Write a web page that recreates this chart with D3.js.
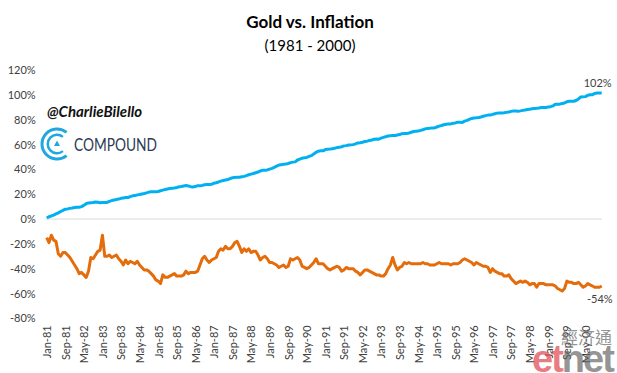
<!DOCTYPE html>
<html>
<head>
<meta charset="utf-8">
<script src="https://cdn.jsdelivr.net/npm/d3@7"></script>
<style>
  body { margin: 0; background: #fff; }
  svg { display: block; font-family: Lato, "Open Sans", sans-serif; }
</style>
</head>
<body>
<svg width="617" height="373"></svg>
<script>
// cumulative change since Dec-80, monthly Jan-81 .. Dec-00
const inflation = [
  0.8, 1.9, 2.5, 3.2, 4.1, 5.0, 6.1, 7.0, 8.0, 8.2, 8.6, 8.9,
  9.3, 9.6, 9.5, 10.0, 11.0, 12.4, 13.0, 13.2, 13.4, 13.8, 13.6, 13.1,
  13.3, 13.4, 13.4, 14.3, 14.9, 15.3, 15.8, 16.1, 16.7, 17.0, 17.3, 17.4,
  18.1, 18.7, 18.9, 19.5, 19.8, 20.2, 20.6, 21.1, 21.7, 22.0, 22.0, 22.0,
  22.2, 22.8, 23.3, 23.9, 24.3, 24.7, 24.9, 25.1, 25.5, 26.0, 26.3, 26.7,
  27.0, 26.7, 26.1, 25.8, 26.2, 26.9, 26.9, 27.1, 27.7, 27.8, 27.9, 28.0,
  28.9, 29.3, 29.9, 30.6, 31.1, 31.5, 31.9, 32.6, 33.3, 33.6, 33.7, 33.7,
  34.1, 34.4, 35.0, 35.7, 36.2, 36.7, 37.3, 37.9, 38.8, 39.3, 39.4, 39.6,
  40.3, 40.9, 41.7, 42.6, 43.5, 43.8, 44.1, 44.4, 44.8, 45.5, 45.9, 46.1,
  47.6, 48.3, 49.1, 49.4, 49.7, 50.5, 51.1, 52.5, 53.8, 54.7, 55.0, 55.0,
  56.0, 56.2, 56.4, 56.7, 57.1, 57.6, 57.8, 58.3, 59.0, 59.2, 59.7, 59.8,
  60.0, 60.6, 61.4, 61.6, 61.9, 62.5, 62.8, 63.3, 63.7, 64.3, 64.5, 64.4,
  65.2, 65.8, 66.4, 66.9, 67.1, 67.3, 67.3, 67.8, 68.1, 68.8, 68.9, 68.9,
  69.4, 70.0, 70.6, 70.8, 70.9, 71.5, 72.0, 72.7, 73.1, 73.2, 73.5, 73.5,
  74.2, 74.9, 75.4, 76.0, 76.4, 76.7, 76.7, 77.2, 77.5, 78.1, 78.0, 77.9,
  78.9, 79.5, 80.4, 81.1, 81.5, 81.6, 81.9, 82.3, 82.9, 83.4, 83.8, 83.8,
  84.4, 84.9, 85.4, 85.6, 85.5, 85.7, 86.0, 86.3, 86.8, 87.2, 87.1, 86.9,
  87.2, 87.6, 87.9, 88.3, 88.6, 88.9, 89.1, 89.3, 89.6, 90.0, 90.0, 89.9,
  90.4, 90.6, 91.2, 92.6, 92.6, 92.6, 93.2, 93.6, 94.5, 94.9, 95.0, 95.0,
  95.6, 96.8, 98.4, 98.5, 98.7, 99.8, 100.2, 100.2, 101.3, 101.6, 101.7, 101.6
];

// real gold return, same months
const gold = [
  -15, -19, -13, -17, -18, -28, -30, -27, -27, -29, -31, -34,
  -37, -40, -44, -43, -45, -47, -42, -31, -32, -29, -26, -25,
  -13, -30, -30, -29, -31, -30, -29, -32, -34, -37, -33, -36,
  -34, -35, -36, -34, -37, -39, -41, -41, -42, -44, -46, -49,
  -50, -52, -45, -47, -47, -46, -45, -44, -46, -46, -46, -45,
  -42, -44, -43, -43, -43, -42, -37, -32, -30, -33, -35, -33,
  -32, -31, -26, -24, -25, -22, -24, -24, -22, -19, -18, -22,
  -27, -24, -26, -24, -27, -26, -26, -29, -33, -31, -30, -32,
  -35, -35, -36, -37, -39, -38, -37, -39, -38, -32, -33, -32,
  -31, -33, -38, -39, -40, -39, -37, -35, -32, -36, -36, -36,
  -38, -40, -41, -40, -39, -38, -39, -42, -41, -39, -40, -40,
  -40, -42, -43, -45, -43, -41, -41, -42, -43, -44, -45, -45,
  -46, -46, -44, -40, -37, -31, -37, -41, -39, -38, -35, -36,
  -35, -36, -36, -36, -36, -36, -35, -36, -36, -37, -37, -37,
  -36, -35, -36, -36, -36, -36, -37, -36, -36, -36, -35, -33,
  -32, -33, -34, -35, -37, -35, -36, -37, -38, -38, -39, -43,
  -40, -42, -43, -44, -44, -46, -46, -45, -48, -50, -52, -51,
  -50, -51, -50, -51, -53, -52, -52, -55, -52, -52, -52, -53,
  -53, -53, -53, -54, -56, -57, -58, -56, -50, -51, -51, -52,
  -52, -51, -53, -55, -54, -52, -53, -54, -55, -55, -55, -54
];

const tickLabels = [
  'Jan-81', 'Sep-81', 'May-82', 'Jan-83', 'Sep-83', 'May-84', 'Jan-85', 'Sep-85',
  'May-86', 'Jan-87', 'Sep-87', 'May-88', 'Jan-89', 'Sep-89', 'May-90', 'Jan-91',
  'Sep-91', 'May-92', 'Jan-93', 'Sep-93', 'May-94', 'Jan-95', 'Sep-95', 'May-96',
  'Jan-97', 'Sep-97', 'May-98', 'Jan-99', 'Sep-99', 'May-00'
];
const yTicks = [-80, -60, -40, -20, 0, 20, 40, 60, 80, 100, 120];

const fmtMonth = d3.timeFormat('%b-%y');
const months = d3.timeMonth.range(new Date(1981, 0, 1), new Date(2001, 0, 1)).map(fmtMonth);

const svg = d3.select('svg');

const x = d3.scalePoint().domain(months).range([46.7, 601.7]);
const y = d3.scaleLinear().domain([-80, 120]).range([318.3, 70.2]);

// titles
svg.append('text')
  .attr('x', 310).attr('y', 28)
  .attr('text-anchor', 'middle')
  .attr('font-size', 17).attr('font-weight', 'bold').attr('fill', '#000')
  .text('Gold vs. Inflation');
svg.append('text')
  .attr('x', 310).attr('y', 51)
  .attr('text-anchor', 'middle')
  .attr('font-size', 15).attr('fill', '#000')
  .text('(1981 - 2000)');

// y axis
const yAxis = svg.append('g')
  .attr('transform', `translate(${x.range()[0]},0)`)
  .call(d3.axisLeft(y).tickValues(yTicks).tickSize(0).tickPadding(11).tickFormat(d => d + '%'));
yAxis.select('.domain').remove();
yAxis.selectAll('text').attr('font-size', 11).attr('fill', '#404040').style('font-family', 'Lato, sans-serif');

// zero line
svg.append('line')
  .attr('x1', x.range()[0]).attr('x2', x.range()[1])
  .attr('y1', y(0)).attr('y2', y(0))
  .attr('stroke', '#d9d9d9').attr('stroke-width', 1);

// x axis
const xAxis = svg.append('g')
  .attr('transform', `translate(0,${y(-80)})`)
  .call(d3.axisBottom(x).tickValues(tickLabels).tickSize(0));
xAxis.select('.domain').remove();
xAxis.selectAll('text')
  .attr('transform', 'rotate(-90)')
  .attr('text-anchor', 'end')
  .attr('x', -7).attr('y', 0).attr('dy', '0.35em')
  .attr('font-size', 11).attr('fill', '#404040')
  .style('font-family', 'Lato, sans-serif');

// lines
const line = d3.line()
  .x((d, i) => x(months[i]))
  .y(d => y(d));

svg.append('path')
  .datum(inflation)
  .attr('fill', 'none').attr('stroke', '#00b0f0')
  .attr('stroke-width', 3).attr('stroke-linejoin', 'round')
  .attr('d', line);

svg.append('path')
  .datum(gold)
  .attr('fill', 'none').attr('stroke', '#e46c0a')
  .attr('stroke-width', 3).attr('stroke-linejoin', 'round')
  .attr('d', line);

// end labels
const last = months.length - 1;
svg.append('text')
  .attr('x', x(months[last]) + 10).attr('y', y(inflation[last]) - 6)
  .attr('text-anchor', 'end').attr('font-size', 11).attr('fill', '#404040')
  .text(Math.round(inflation[last]) + '%');
svg.append('text')
  .attr('x', x(months[last]) + 11).attr('y', y(gold[last]) + 17)
  .attr('text-anchor', 'end').attr('font-size', 11).attr('fill', '#404040')
  .text(Math.round(gold[last]) + '%');

// watermark: @CharlieBilello + COMPOUND logo
svg.append('text')
  .attr('x', 47).attr('y', 117)
  .attr('font-size', 15).attr('font-weight', 'bold').attr('font-style', 'italic')
  .attr('fill', '#111').style('font-family', 'Lato, sans-serif')
  .text('@CharlieBilello');

const logo = svg.append('g').attr('transform', 'translate(57,144)');
const arc = d3.arc();
[[13.5, 16.5], [8, 10.5]].forEach(([r0, r1]) => {
  logo.append('path')
    .attr('d', arc({innerRadius: r0, outerRadius: r1, startAngle: Math.PI * 0.78, endAngle: Math.PI * 2.22}))
    .attr('fill', '#1fa8e0');
});
logo.append('path').attr('d', 'M0,-3.5 L3,2 L-3,2 Z').attr('fill', '#1fa8e0');

svg.append('text')
  .attr('x', 74).attr('y', 151)
  .attr('font-size', 17).attr('fill', '#2c3b57')
  .attr('textLength', 83).attr('lengthAdjust', 'spacingAndGlyphs')
  .style('font-family', 'Lato, sans-serif')
  .text('COMPOUND');

// etnet watermark
svg.append('text')
  .attr('x', 612).attr('y', 344)
  .attr('text-anchor', 'end')
  .attr('font-size', 17).attr('fill', '#777').attr('fill-opacity', 0.8)
  .style('font-family', '"Noto Sans CJK TC", sans-serif')
  .text('經济通');
const etnet = svg.append('text')
  .attr('x', 532).attr('y', 372)
  .attr('font-size', 38).attr('font-weight', 'bold')
  .attr('letter-spacing', -2)
  .style('font-family', '"Liberation Sans", sans-serif');
etnet.append('tspan').attr('fill', '#e0404a').attr('fill-opacity', 0.7).text('et');
etnet.append('tspan').attr('fill', '#666').attr('fill-opacity', 0.7).text('net');
</script>
</body>
</html>
